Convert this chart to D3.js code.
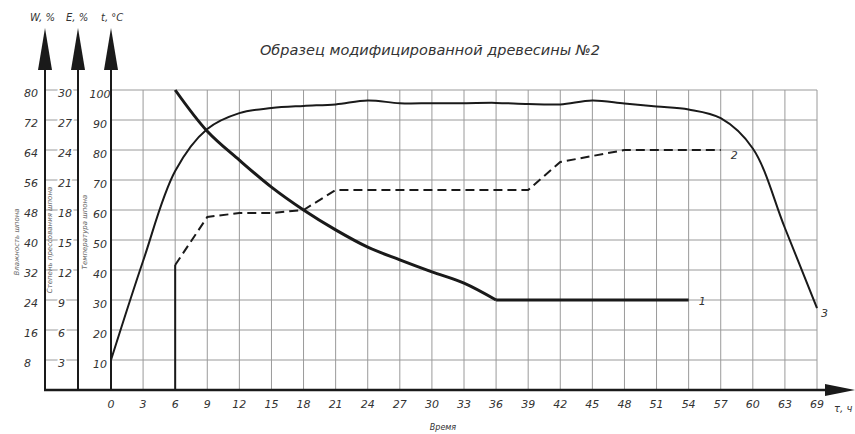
<!DOCTYPE html>
<html>
<head>
<meta charset="utf-8">
<script src="https://cdn.jsdelivr.net/npm/d3@7"></script>
<style>
  body { margin: 0; background: #fff; }
</style>
</head>
<body>
<div id="chart"></div>
<script>
// time ticks (hours) and their printed labels
const xTicks = [0,3,6,9,12,15,18,21,24,27,30,33,36,39,42,45,48,51,54,57,60,63,66];
const xTickLabels = ["0","3","6","9","12","15","18","21","24","27","30","33","36","39","42","45","48","51","54","57","60","63","69"];

// left scales
const wTicks = [8,16,24,32,40,48,56,64,72,80];
const eTicks = [3,6,9,12,15,18,21,24,27,30];
const tTicks = [10,20,30,40,50,60,70,80,90,100];

// 1 - moisture W, %
const moisture = [[6,80],[9,69],[12,61.3],[15,54.1],[18,48],[21,42.7],[24,38.1],[27,34.7],[30,31.5],[33,28.5],[36,24],[45,24],[54,24]];
// 2 - degree of pressing E, %
const pressStart = [[6,0],[6,12.5]];
const pressing = [[6,12.5],[9,17.3],[12,17.7],[15,17.7],[18,18],[21,20],[39,20],[42,22.8],[48,24],[57,24]];
// 3 - temperature t, C
const temperature = [[0,10],[3,43],[6,73],[9,87],[12,92.3],[15,94],[18,94.7],[21,95.2],[24,96.5],[27,95.6],[30,95.6],[33,95.6],[36,95.7],[39,95.3],[42,95.2],[45,96.5],[48,95.5],[51,94.5],[54,93.5],[57,90.6],[60,80.5],[63,54],[66,27.3]];

const font = "DejaVu Sans";
const ink = "#1a1a1a";

const svg = d3.select("#chart")
  .append("svg")
  .attr("width", 855)
  .attr("height", 434)
  .style("background-color", "#fff");

// scales
const xScale = d3.scaleLinear().domain([0, 66]).range([111, 817]);
const tScale = d3.scaleLinear().domain([0, 100]).range([390, 90]);
const wScale = d3.scaleLinear().domain([0, 80]).range([390, 90]);
const eScale = d3.scaleLinear().domain([0, 30]).range([390, 90]);

const axW = 45, axE = 78, axT = 111;

// grid
const grid = svg.append("g");
grid.selectAll(".vg")
  .data(xTicks.slice(1))
  .join("line")
  .attr("x1", d => xScale(d)).attr("x2", d => xScale(d))
  .attr("y1", tScale(100)).attr("y2", tScale(0))
  .attr("stroke", "#9a9a9a").attr("stroke-width", 1);

grid.selectAll(".hg")
  .data(tTicks)
  .join("line")
  .attr("x1", axT).attr("x2", xScale(66))
  .attr("y1", d => tScale(d)).attr("y2", d => tScale(d))
  .attr("stroke", "#9a9a9a").attr("stroke-width", 1);

// short ticks between W and E axes
grid.selectAll(".wt")
  .data(wTicks)
  .join("line")
  .attr("x1", axW).attr("x2", axE)
  .attr("y1", d => wScale(d)).attr("y2", d => wScale(d))
  .attr("stroke", "#9a9a9a").attr("stroke-width", 1);

// axes lines
const axes = svg.append("g");
[axW, axE, axT].forEach(x => {
  axes.append("line")
    .attr("x1", x).attr("x2", x)
    .attr("y1", 40).attr("y2", 391)
    .attr("stroke", ink).attr("stroke-width", 2);
  axes.append("path")
    .attr("d", `M${x},28 L${x - 7},70 L${x + 7},70 Z`)
    .attr("fill", ink);
});

axes.append("line")
  .attr("x1", axW - 1).attr("x2", 830)
  .attr("y1", 390).attr("y2", 390)
  .attr("stroke", ink).attr("stroke-width", 2.5);
axes.append("path")
  .attr("d", "M855,390 L825,384 L825,396 Z")
  .attr("fill", ink);

// left tick labels
const labelStyle = sel => sel
  .attr("font-family", font)
  .attr("font-style", "italic")
  .attr("font-size", 11)
  .attr("fill", "#333");

svg.selectAll(".wl")
  .data(wTicks)
  .join("text")
  .text(d => d)
  .attr("x", 24)
  .attr("y", d => wScale(d) + 7)
  .call(labelStyle);

svg.selectAll(".el")
  .data(eTicks)
  .join("text")
  .text(d => d)
  .attr("x", 58)
  .attr("y", d => eScale(d) + 7)
  .attr("stroke", "#fff")
  .attr("stroke-width", 4)
  .attr("paint-order", "stroke")
  .call(labelStyle);

svg.selectAll(".tl")
  .data(tTicks)
  .join("text")
  .text(d => d)
  .attr("x", 100)
  .attr("y", d => tScale(d) + 8)
  .attr("text-anchor", "middle")
  .call(labelStyle);

// x tick labels
svg.selectAll(".xl")
  .data(xTicks)
  .join("text")
  .text((d, i) => xTickLabels[i])
  .attr("x", d => xScale(d))
  .attr("y", 408)
  .attr("text-anchor", "middle")
  .call(labelStyle);

// axis names
svg.append("text").text("W, %").attr("x", 30).attr("y", 21).call(labelStyle).attr("font-size", 10);
svg.append("text").text("E, %").attr("x", 66).attr("y", 21).call(labelStyle).attr("font-size", 10);
svg.append("text").text("t, °C").attr("x", 101).attr("y", 21).call(labelStyle).attr("font-size", 10);
svg.append("text").text("τ, ч").attr("x", 834).attr("y", 412).call(labelStyle).attr("font-size", 10);
svg.append("text").text("Время").attr("x", 443).attr("y", 430)
  .attr("text-anchor", "middle").call(labelStyle).attr("font-size", 8);

const rotLabel = (txt, x, y) => svg.append("text")
  .text(txt)
  .attr("transform", `translate(${x},${y}) rotate(-90)`)
  .attr("text-anchor", "middle")
  .attr("font-family", font)
  .attr("font-style", "italic")
  .attr("font-size", 7)
  .attr("fill", "#666");
rotLabel("Влажность шпона", 19, 242);
rotLabel("Степень прессования шпона", 52, 240);
rotLabel("Температура шпона", 87, 232);

// title
svg.append("text")
  .text("Образец модифицированной древесины №2")
  .attr("x", 430).attr("y", 55)
  .attr("text-anchor", "middle")
  .call(labelStyle)
  .attr("font-size", 14.5);

// curves
const smooth = d3.curveCatmullRom.alpha(0.5);
const lineW = d3.line().x(d => xScale(d[0])).y(d => wScale(d[1])).curve(smooth);
const lineWflat = d3.line().x(d => xScale(d[0])).y(d => wScale(d[1]));
const lineE = d3.line().x(d => xScale(d[0])).y(d => eScale(d[1]));
const lineT = d3.line().x(d => xScale(d[0])).y(d => tScale(d[1])).curve(smooth);

// moisture: falling part smooth, then straight level
const bend = moisture.findIndex(d => d[0] === 36);
svg.append("path").datum(moisture.slice(0, bend + 1)).attr("d", lineW)
  .attr("fill", "none").attr("stroke", ink).attr("stroke-width", 3);
svg.append("path").datum(moisture.slice(bend)).attr("d", lineWflat)
  .attr("fill", "none").attr("stroke", ink).attr("stroke-width", 3);

svg.append("path").datum(pressStart).attr("d", lineE)
  .attr("fill", "none").attr("stroke", ink).attr("stroke-width", 2);
svg.append("path").datum(pressing).attr("d", lineE)
  .attr("fill", "none").attr("stroke", ink).attr("stroke-width", 2)
  .attr("stroke-dasharray", "9,5");

svg.append("path").datum(temperature).attr("d", lineT)
  .attr("fill", "none").attr("stroke", ink).attr("stroke-width", 2);

// curve numbers
const last = arr => arr[arr.length - 1];
svg.append("text").text("1")
  .attr("x", xScale(last(moisture)[0]) + 10).attr("y", wScale(last(moisture)[1]) + 5)
  .call(labelStyle);
svg.append("text").text("2")
  .attr("x", xScale(last(pressing)[0]) + 10).attr("y", eScale(last(pressing)[1]) + 9)
  .call(labelStyle);
svg.append("text").text("3")
  .attr("x", xScale(last(temperature)[0]) + 4).attr("y", tScale(last(temperature)[1]) + 9)
  .call(labelStyle);
</script>
</body>
</html>
